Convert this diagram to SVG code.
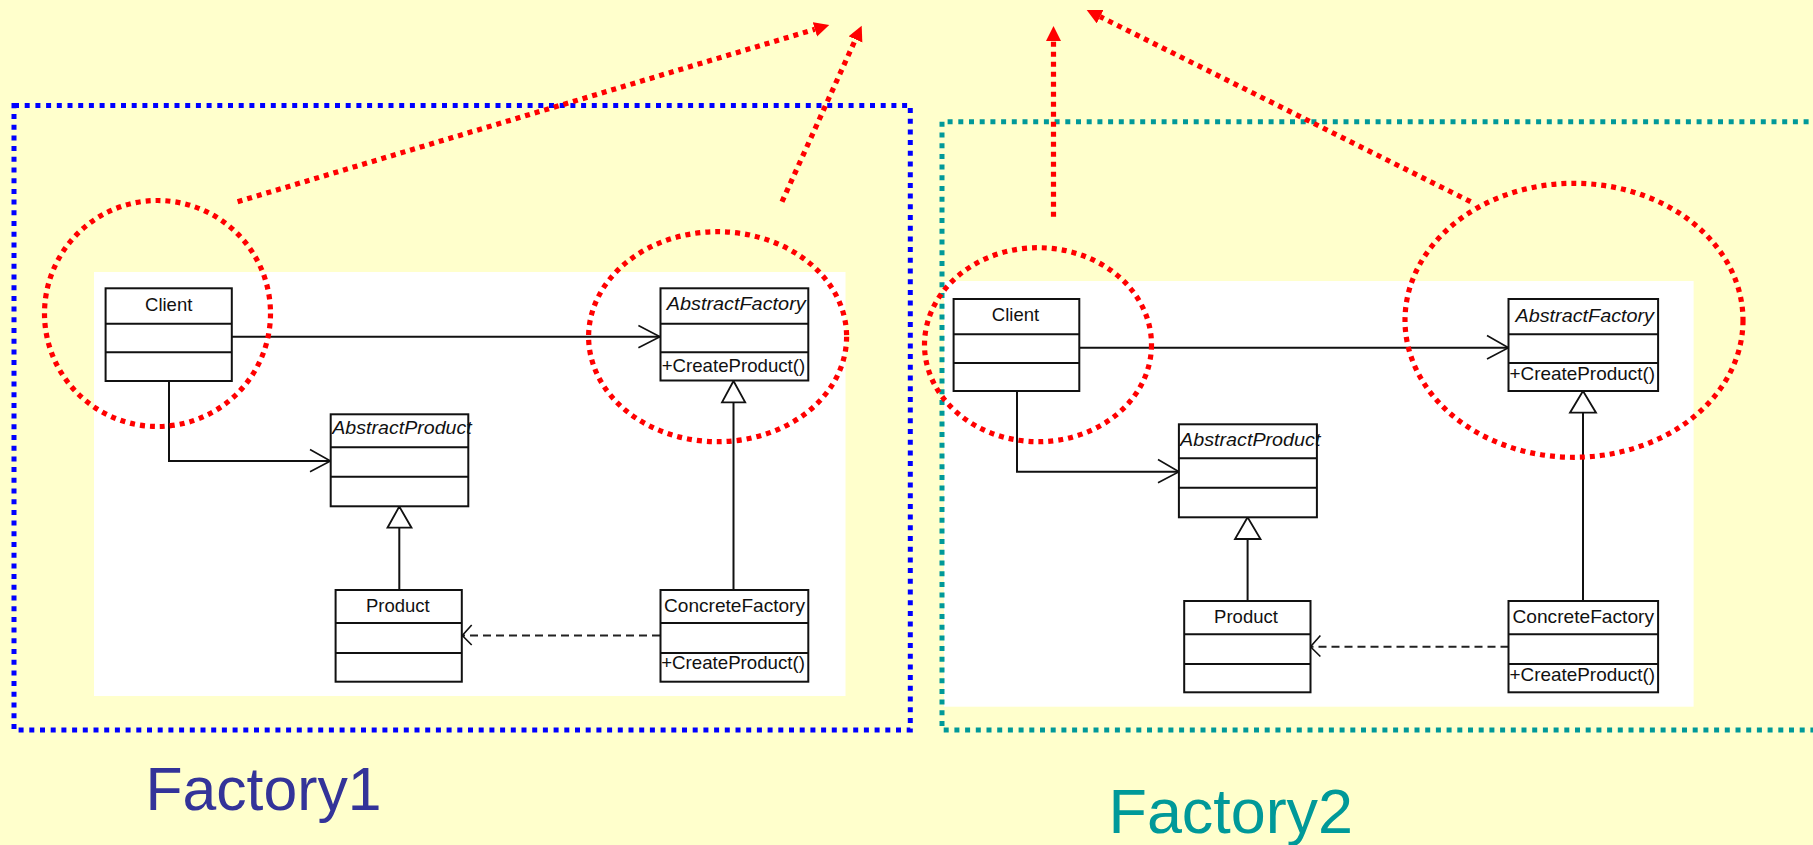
<svg xmlns="http://www.w3.org/2000/svg" width="1813" height="845" viewBox="0 0 1813 845">
<defs>
<style>
.cls{fill:#fff;stroke:#111;stroke-width:2}
.div{stroke:#111;stroke-width:2}
.t{font-family:"Liberation Sans",Arial,sans-serif;font-size:18.5px;fill:#111}
.ti{font-family:"Liberation Sans",Arial,sans-serif;font-size:18.5px;fill:#111;font-style:italic}
.ln{fill:none;stroke:#111;stroke-width:2}
.oa{fill:none;stroke:#111;stroke-width:1.6}
.gen{fill:#fff;stroke:#111;stroke-width:1.8}
.dep{fill:none;stroke:#222;stroke-width:2;stroke-dasharray:8 5}
.hl{fill:none;stroke:#ff0000;stroke-width:5.2;stroke-dasharray:5 5}
.ra{fill:none;stroke:#ff0000;stroke-width:5.2;stroke-dasharray:5 5;marker-end:url(#redhead)}
.lbl{font-family:"Liberation Sans",Arial,sans-serif}
</style>
<marker id="redhead" markerUnits="userSpaceOnUse" markerWidth="16" markerHeight="16" refX="0" refY="7.5" orient="auto" viewBox="0 0 16 16">
<path d="M0,0 L15,7.5 L0,15 Z" fill="#ff0000"/>
</marker>
</defs>
<rect x="0" y="0" width="1813" height="845" fill="#ffffcc"/>

<!-- white diagram backgrounds -->
<rect id="canvas1" x="94" y="272" width="751.5" height="424" fill="#fff"/>
<rect id="canvas2" x="944" y="281" width="749.6" height="425.7" fill="#fff"/>

<!-- frames -->
<g id="frame1">
<rect x="14" y="105.5" width="896.3" height="624.5" fill="none" stroke="#0000ff" stroke-width="5" stroke-dasharray="5 5.7"/>
</g>
<g id="frame2">
<path d="M1830,121.7 H942 V730 H1830" fill="none" stroke="#009999" stroke-width="5" stroke-dasharray="5 5.7"/>
</g>

<!-- UML connectors -->
<g id="connectors">
<!-- Factory1 -->
<path class="ln" d="M232,336.7 H660"/>
<polyline class="oa" points="638.4,325.5 660,336.7 638.4,347.7"/>
<path class="ln" d="M169,381 V461 H330.5"/>
<polyline class="oa" points="310,449.5 330.5,461 310,471.7"/>
<polygon class="gen" points="733.5,381 722,402.3 745.2,402.3"/>
<path class="ln" d="M733.5,402.3 V590"/>
<polygon class="gen" points="399.3,506.5 387.5,527.7 411.5,527.7"/>
<path class="ln" d="M399.3,527.7 V590"/>
<path class="dep" d="M660,635.5 H462.3"/>
<polyline class="oa" points="471.7,625 462.3,635.5 471.7,645"/>
<!-- Factory2 -->
<path class="ln" d="M1079.3,347.7 H1508.5"/>
<polyline class="oa" points="1487,335.5 1508.5,347.7 1487,359"/>
<path class="ln" d="M1017,391 V471.7 H1179"/>
<polyline class="oa" points="1158,459.5 1179,471.7 1158,482.7"/>
<polygon class="gen" points="1583,391 1570,412.7 1596,412.7"/>
<path class="ln" d="M1583,412.7 V601"/>
<polygon class="gen" points="1247.6,517.3 1235,539 1260.5,539"/>
<path class="ln" d="M1247.6,539 V601"/>
<path class="dep" d="M1508.5,646.7 H1310.5"/>
<polyline class="oa" points="1320.4,635.5 1310.5,646.7 1320.4,656.5"/>
</g>

<!-- Factory1 classes -->
<g id="f1-client">
<rect class="cls" x="105.6" y="288.3" width="126.2" height="92.7"/>
<path class="div" d="M105.6,323.7 H231.8 M105.6,352.2 H231.8"/>
<text class="t" x="168.7" y="310.7" text-anchor="middle">Client</text>
</g>
<g id="f1-abstractfactory">
<rect class="cls" x="660.5" y="288.3" width="147.8" height="92.2"/>
<path class="div" d="M660.5,323.7 H808.3 M660.5,352.3 H808.3"/>
<text class="ti" x="666.7" y="310" textLength="139" lengthAdjust="spacingAndGlyphs">AbstractFactory</text>
<text class="t" x="661.7" y="371.7" textLength="143.5" lengthAdjust="spacingAndGlyphs">+CreateProduct()</text>
</g>
<g id="f1-abstractproduct">
<rect class="cls" x="330.7" y="414.3" width="137.6" height="92"/>
<path class="div" d="M330.7,447.3 H468.3 M330.7,476.8 H468.3"/>
<text class="ti" x="332.3" y="434.3" textLength="139.4" lengthAdjust="spacingAndGlyphs">AbstractProduct</text>
</g>
<g id="f1-product">
<rect class="cls" x="335.6" y="590" width="126.2" height="91.7"/>
<path class="div" d="M335.6,623 H461.8 M335.6,653 H461.8"/>
<text class="t" x="397.8" y="611.7" text-anchor="middle">Product</text>
</g>
<g id="f1-concretefactory">
<rect class="cls" x="660.5" y="590" width="147.8" height="91.7"/>
<path class="div" d="M660.5,623 H808.3 M660.5,653 H808.3"/>
<text class="t" x="664" y="611.7" textLength="141" lengthAdjust="spacingAndGlyphs">ConcreteFactory</text>
<text class="t" x="661.2" y="669.3" textLength="143.8" lengthAdjust="spacingAndGlyphs">+CreateProduct()</text>
</g>

<!-- Factory2 classes -->
<g id="f2-client">
<rect class="cls" x="953.6" y="299" width="125.7" height="92"/>
<path class="div" d="M953.6,334.3 H1079.3 M953.6,363 H1079.3"/>
<text class="t" x="1015.5" y="321" text-anchor="middle">Client</text>
</g>
<g id="f2-abstractfactory">
<rect class="cls" x="1508.5" y="299" width="149.6" height="92"/>
<path class="div" d="M1508.5,334.3 H1658.1 M1508.5,363 H1658.1"/>
<text class="ti" x="1515.5" y="321.7" textLength="138.5" lengthAdjust="spacingAndGlyphs">AbstractFactory</text>
<text class="t" x="1509.5" y="380" textLength="145.5" lengthAdjust="spacingAndGlyphs">+CreateProduct()</text>
</g>
<g id="f2-abstractproduct">
<rect class="cls" x="1178.9" y="424.3" width="138" height="93"/>
<path class="div" d="M1178.9,458.3 H1316.9 M1178.9,487.7 H1316.9"/>
<text class="ti" x="1180" y="446" textLength="140.4" lengthAdjust="spacingAndGlyphs">AbstractProduct</text>
</g>
<g id="f2-product">
<rect class="cls" x="1184.2" y="601" width="126.3" height="91.3"/>
<path class="div" d="M1184.2,634.3 H1310.5 M1184.2,664 H1310.5"/>
<text class="t" x="1246" y="622.7" text-anchor="middle">Product</text>
</g>
<g id="f2-concretefactory">
<rect class="cls" x="1508.5" y="601" width="149.6" height="91.3"/>
<path class="div" d="M1508.5,634.3 H1658.1 M1508.5,664 H1658.1"/>
<text class="t" x="1512.5" y="622.7" textLength="141.5" lengthAdjust="spacingAndGlyphs">ConcreteFactory</text>
<text class="t" x="1509.5" y="681" textLength="145.5" lengthAdjust="spacingAndGlyphs">+CreateProduct()</text>
</g>

<!-- red highlight ellipses -->
<g id="highlight-f1-client"><ellipse class="hl" cx="157.5" cy="313.5" rx="113" ry="113"/></g>
<g id="highlight-f1-factory"><ellipse class="hl" cx="717.6" cy="336.7" rx="129" ry="105"/></g>
<g id="highlight-f2-client"><ellipse class="hl" cx="1038" cy="344.7" rx="113.5" ry="97"/></g>
<g id="highlight-f2-factory"><ellipse class="hl" cx="1574" cy="320.3" rx="169" ry="137"/></g>

<!-- red dotted arrows -->
<g id="red-connectors">
<line class="ra" x1="237.6" y1="201.7" x2="814.9" y2="29.3"/>
<line class="ra" x1="782" y1="201.7" x2="855.5" y2="39.4"/>
<line class="ra" x1="1053.5" y1="216.7" x2="1053.5" y2="41"/>
<line class="ra" x1="1470.6" y1="201.7" x2="1100.1" y2="16.7"/>
</g>

<!-- labels -->
<g id="label-factory1"><text class="lbl" x="145.5" y="810" font-size="62" fill="#333399" textLength="236" lengthAdjust="spacingAndGlyphs">Factory1</text></g>
<g id="label-factory2"><text class="lbl" x="1108.5" y="833.3" font-size="63" fill="#009999" textLength="244.5" lengthAdjust="spacingAndGlyphs">Factory2</text></g>
</svg>
